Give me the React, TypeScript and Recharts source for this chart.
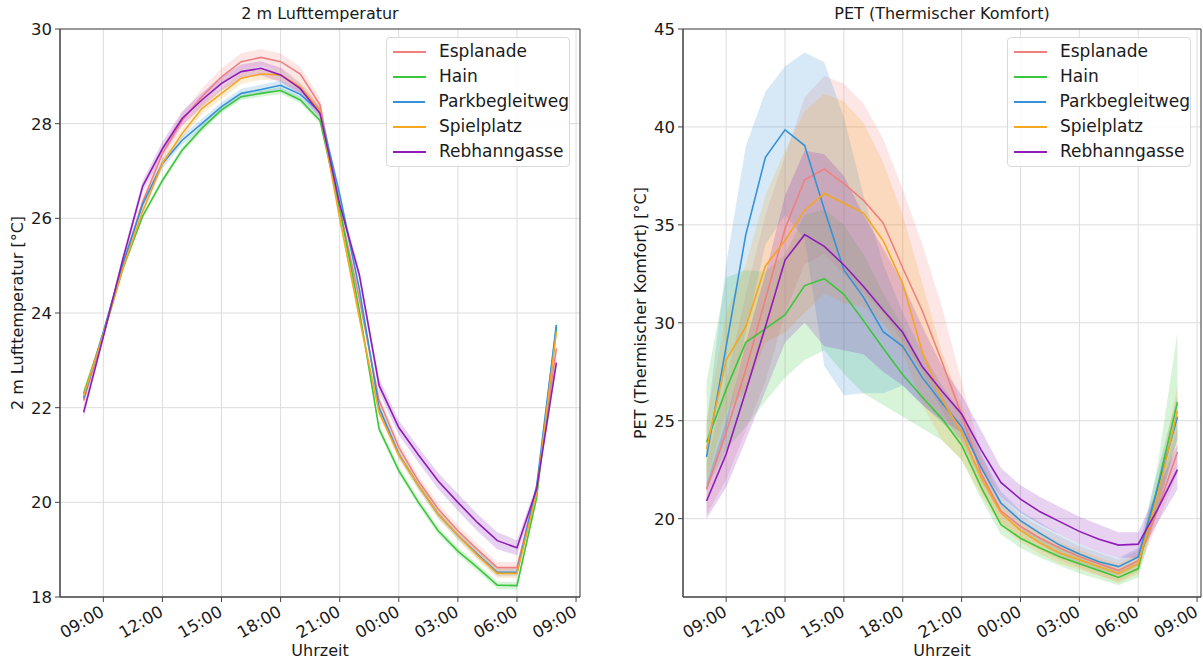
import React from 'react';
import { ComposedChart, Line, Area, XAxis, YAxis, CartesianGrid, ReferenceArea } from 'recharts';

// ---------- categories ----------
const hourLabels = ['08:00','09:00','10:00','11:00','12:00','13:00','14:00','15:00','16:00','17:00','18:00','19:00','20:00','21:00','22:00','23:00','00:00','01:00','02:00','03:00','04:00','05:00','06:00','07:00','08:00'];
const tickHours = [1, 4, 7, 10, 13, 16, 19, 22, 25];
const tickLabels = ['09:00','12:00','15:00','18:00','21:00','00:00','03:00','06:00','09:00'];
const seriesNames = ['Esplanade', 'Hain', 'Parkbegleitweg', 'Spielplatz', 'Rebhanngasse'];

// ---------- 2 m Lufttemperatur (mean) ----------
const tEsplanade = [22.15,23.55,25.0,26.35,27.37,28.07,28.57,28.99,29.31,29.4,29.31,29.05,28.4,26.2,24.3,22.15,21.16,20.45,19.86,19.4,19.0,18.62,18.62,20.3,23.25];
const tHain = [22.3,23.55,24.95,26.05,26.8,27.44,27.9,28.29,28.57,28.64,28.7,28.5,28.07,26.2,24.05,21.55,20.67,20.0,19.4,18.97,18.62,18.25,18.24,20.1,23.7];
const tPark = [22.2,23.6,25.05,26.3,27.16,27.65,28.0,28.36,28.64,28.72,28.81,28.62,28.25,26.5,24.5,22.0,21.02,20.35,19.75,19.3,18.9,18.52,18.52,20.35,23.75];
const tSpiel = [22.25,23.55,24.95,26.15,27.16,27.79,28.32,28.64,28.96,29.05,29.03,28.78,28.27,26.0,23.9,21.9,21.0,20.35,19.75,19.3,18.88,18.5,18.5,20.2,23.6];
const tRebhann = [21.9,23.5,25.15,26.68,27.47,28.11,28.5,28.85,29.1,29.17,29.03,28.74,28.22,26.3,24.8,22.47,21.58,21.0,20.45,20.0,19.57,19.19,19.04,20.28,22.95];

// ---------- 2 m Lufttemperatur (band half-width) ----------
const tEsplanadeSd = [0.12,0.1,0.1,0.12,0.15,0.15,0.17,0.18,0.18,0.18,0.17,0.15,0.15,0.12,0.12,0.12,0.12,0.12,0.12,0.12,0.12,0.12,0.12,0.1,0.12];
const tHainSd = [0.1,0.06,0.06,0.06,0.06,0.07,0.07,0.07,0.07,0.07,0.07,0.07,0.07,0.07,0.08,0.08,0.08,0.08,0.08,0.08,0.08,0.08,0.08,0.07,0.08];
const tParkSd = [0.08,0.07,0.07,0.08,0.1,0.1,0.1,0.1,0.1,0.1,0.1,0.1,0.1,0.12,0.1,0.08,0.08,0.08,0.08,0.08,0.08,0.08,0.08,0.07,0.12];
const tSpielSd = [0.08,0.07,0.07,0.08,0.1,0.1,0.12,0.12,0.12,0.12,0.12,0.12,0.12,0.1,0.1,0.1,0.1,0.1,0.1,0.1,0.1,0.1,0.1,0.08,0.1];
const tRebhannSd = [0.12,0.08,0.1,0.12,0.15,0.15,0.15,0.15,0.15,0.15,0.15,0.12,0.12,0.12,0.12,0.15,0.15,0.16,0.17,0.18,0.18,0.18,0.16,0.1,0.12];

// ---------- PET (mean, low, high) ----------
const petEsplanade = [21.5,24.4,27.6,31.2,34.8,37.3,37.85,37.1,36.25,35.1,32.8,30.6,28.0,25.3,22.3,20.4,19.6,19.0,18.5,18.05,17.7,17.35,17.85,20.5,23.4];
const petEsplanadeLo = [20.2,22.0,24.5,27.0,30.5,33.0,33.5,32.5,31.5,30.5,29.0,27.5,25.5,23.8,21.4,19.8,19.0,18.4,17.9,17.5,17.1,16.8,17.3,19.8,22.3];
const petEsplanadeHi = [22.8,27.0,31.5,35.5,38.5,41.5,42.6,42.2,41.2,39.4,36.8,34.0,30.8,27.0,23.3,21.1,20.2,19.6,19.1,18.6,18.25,17.9,18.4,21.3,24.6];

const petHain = [23.9,26.6,29.0,29.7,30.4,31.9,32.25,31.45,30.1,28.7,27.35,26.2,25.1,23.75,21.6,19.7,19.0,18.5,18.05,17.7,17.35,17.0,17.45,21.7,25.95];
const petHainLo = [21.5,23.5,24.7,26.0,27.2,28.1,28.6,27.4,26.4,25.8,25.2,24.6,24.0,23.0,21.0,19.2,18.5,18.0,17.6,17.2,16.9,16.6,17.0,20.5,24.0];
const petHainHi = [27.0,32.3,32.7,32.6,33.5,35.5,35.8,35.0,33.5,31.5,29.8,27.8,26.3,24.5,22.2,20.2,19.5,19.0,18.5,18.2,17.8,17.4,17.9,22.8,29.5];

const petPark = [23.15,28.8,34.5,38.45,39.85,39.05,35.8,32.7,31.3,29.55,28.8,27.2,25.9,24.7,22.6,20.8,19.9,19.25,18.65,18.2,17.8,17.55,18.05,21.6,25.2];
const petParkLo = [21.4,24.5,29.5,34.0,35.5,34.3,27.8,26.3,26.4,26.4,26.8,25.8,24.9,24.0,21.9,20.2,19.4,18.7,18.1,17.7,17.3,17.1,17.6,20.7,24.1];
const petParkHi = [24.8,33.0,39.0,41.8,43.1,43.8,43.3,40.5,36.5,33.0,30.5,28.5,26.8,25.4,23.3,21.4,20.4,19.8,19.2,18.7,18.3,18.0,18.5,22.5,26.3];

const petSpiel = [23.55,28.1,29.8,32.9,34.2,35.75,36.6,36.1,35.6,34.2,32.0,28.5,26.1,24.4,22.1,20.3,19.4,18.75,18.25,17.9,17.55,17.2,17.7,21.2,25.5];
const petSpielLo = [22.0,25.5,26.5,29.0,29.5,30.5,31.5,31.0,30.8,30.0,28.5,25.8,24.0,23.0,21.2,19.6,18.8,18.2,17.7,17.4,17.1,16.7,17.2,20.3,24.3];
const petSpielHi = [25.0,30.5,33.0,36.5,38.8,40.8,41.7,41.3,40.2,38.2,35.5,32.0,28.5,25.8,23.0,20.9,19.9,19.3,18.8,18.4,18.0,17.7,18.2,22.0,26.8];

const petRebhann = [20.9,23.3,26.5,29.8,33.2,34.5,33.9,32.95,31.85,30.65,29.5,27.75,26.5,25.35,23.5,21.85,21.0,20.35,19.85,19.35,18.95,18.65,18.7,20.5,22.5];
const petRebhannLo = [20.0,21.6,24.0,26.5,29.0,30.0,28.8,28.6,28.4,27.5,26.8,25.8,25.0,24.4,22.6,21.1,20.3,19.7,19.2,18.7,18.3,18.0,18.0,19.8,21.5];
const petRebhannHi = [21.8,25.0,29.0,32.5,36.5,38.8,38.6,37.5,35.5,33.8,32.0,29.8,27.8,26.3,24.5,22.6,21.7,21.1,20.6,20.1,19.7,19.3,19.3,21.5,23.8];

// ---------- styling (not data) ----------
const colors = ['#F08080', '#3CC63C', '#3592D8', '#F5A623', '#8E1CB8'];
const keys = ['esp', 'hain', 'park', 'spiel', 'reb'];
const FONT = '"DejaVu Sans", sans-serif';
const TEXT = '#1a1a1a';

const tempMeans = [tEsplanade, tHain, tPark, tSpiel, tRebhann];
const tempSds = [tEsplanadeSd, tHainSd, tParkSd, tSpielSd, tRebhannSd];
const petMeans = [petEsplanade, petHain, petPark, petSpiel, petRebhann];
const petLos = [petEsplanadeLo, petHainLo, petParkLo, petSpielLo, petRebhannLo];
const petHis = [petEsplanadeHi, petHainHi, petParkHi, petSpielHi, petRebhannHi];

const tempData = hourLabels.map((h, i) => {
  const row: any = { x: i, label: h };
  keys.forEach((k, s) => {
    row[k] = tempMeans[s][i];
    row[k + '_band'] = [tempMeans[s][i] - tempSds[s][i], tempMeans[s][i] + tempSds[s][i]];
  });
  return row;
});

const petData = hourLabels.map((h, i) => {
  const row: any = { x: i, label: h };
  keys.forEach((k, s) => {
    row[k] = petMeans[s][i];
    row[k + '_band'] = [petLos[s][i], petHis[s][i]];
  });
  return row;
});

const XTick = (props: any) => {
  const { x, y, payload } = props;
  const idx = tickHours.indexOf(payload.value);
  return (
    <g transform={`translate(${x + 2},${y + 11})`}>
      <text textAnchor="end" transform="rotate(-30)" fontSize={16.5} fill={TEXT} fontFamily={FONT}>
        {tickLabels[idx]}
      </text>
    </g>
  );
};

const X_DOMAIN: [number, number] = [-1.2, 25.2];

function Panel(props: { data: any[]; width: number; yWidth: number; right: number; yDomain: [number, number]; yTicks: number[] }) {
  const { data, width, yWidth, right, yDomain, yTicks } = props;
  return (
    <ComposedChart width={width} height={663} data={data} margin={{ top: 29, right, bottom: 6, left: 0 }}>
      <CartesianGrid stroke="#dddddd" strokeWidth={1} />
      <XAxis
        type="number"
        dataKey="x"
        domain={X_DOMAIN}
        ticks={tickHours}
        allowDataOverflow
        height={60}
        tickSize={5}
        tickLine={{ stroke: '#444' }}
        axisLine={{ stroke: '#444' }}
        tick={<XTick />}
        interval={0}
      />
      <YAxis
        type="number"
        domain={yDomain}
        ticks={yTicks}
        allowDataOverflow
        width={yWidth}
        tickSize={5}
        tickMargin={3}
        tickLine={{ stroke: '#444' }}
        axisLine={{ stroke: '#444' }}
        tick={{ fontSize: 16.5, fill: TEXT, fontFamily: FONT }}
        interval={0}
      />
      {keys.map((k, s) => (
        <Area
          key={k + '_a'}
          type="linear"
          dataKey={k + '_band'}
          stroke="none"
          fill={colors[s]}
          fillOpacity={0.2}
          isAnimationActive={false}
          activeDot={false}
          legendType="none"
        />
      ))}
      {keys.map((k, s) => (
        <Line
          key={k + '_l'}
          type="linear"
          dataKey={k}
          name={seriesNames[s]}
          stroke={colors[s]}
          strokeWidth={1.6}
          dot={false}
          activeDot={false}
          isAnimationActive={false}
        />
      ))}
      <ReferenceArea x1={X_DOMAIN[0]} x2={X_DOMAIN[1]} y1={yDomain[0]} y2={yDomain[1]} fill="none" stroke="#444" strokeWidth={1} ifOverflow="visible" />
    </ComposedChart>
  );
}

function LegendBox(props: { left: number; top: number }) {
  return (
    <div
      style={{
        position: 'absolute',
        left: props.left,
        top: props.top,
        width: 184,
        height: 130,
        boxSizing: 'border-box',
        border: '1px solid #d9d9d9',
        borderRadius: 4,
        background: 'rgba(255,255,255,0.85)',
        paddingTop: 1,
      }}
    >
      {seriesNames.map((n, s) => (
        <div key={n} style={{ display: 'flex', alignItems: 'center', height: 25 }}>
          <div style={{ marginLeft: 6, width: 33, height: 0, borderTop: `2px solid ${colors[s]}` }} />
          <div style={{ marginLeft: 13, fontSize: 17, color: TEXT, lineHeight: '25px', whiteSpace: 'nowrap' }}>{n}</div>
        </div>
      ))}
    </div>
  );
}

const textStyle: React.CSSProperties = { position: 'absolute', fontSize: 16, color: TEXT, whiteSpace: 'nowrap', lineHeight: '18px' };

export default function App() {
  return (
    <div style={{ position: 'absolute', left: 0, top: 0, width: 1203, height: 663, background: '#fff', fontFamily: FONT, overflow: 'hidden' }}>
      <div style={{ position: 'absolute', left: 0, top: 0 }}>
        <Panel data={tempData} width={600} yWidth={60} right={20} yDomain={[18, 30]} yTicks={[18, 20, 22, 24, 26, 28, 30]} />
      </div>
      <div style={{ position: 'absolute', left: 600, top: 0 }}>
        <Panel data={petData} width={603} yWidth={83} right={2} yDomain={[16, 45]} yTicks={[20, 25, 30, 35, 40, 45]} />
      </div>

      <div style={{ ...textStyle, left: 60, width: 520, top: 5, textAlign: 'center' }}>2 m Lufttemperatur</div>
      <div style={{ ...textStyle, left: 683, width: 518, top: 5, textAlign: 'center' }}>PET (Thermischer Komfort)</div>

      <div style={{ ...textStyle, left: 60, width: 520, top: 642, textAlign: 'center' }}>Uhrzeit</div>
      <div style={{ ...textStyle, left: 683, width: 518, top: 642, textAlign: 'center' }}>Uhrzeit</div>

      <div style={{ ...textStyle, left: 18, top: 313, transform: 'translate(-50%,-50%) rotate(-90deg)' }}>2 m Lufttemperatur [°C]</div>
      <div style={{ ...textStyle, left: 641, top: 313, transform: 'translate(-50%,-50%) rotate(-90deg)' }}>PET (Thermischer Komfort) [°C]</div>

      <LegendBox left={386} top={37} />
      <LegendBox left={1007} top={37} />
    </div>
  );
}
